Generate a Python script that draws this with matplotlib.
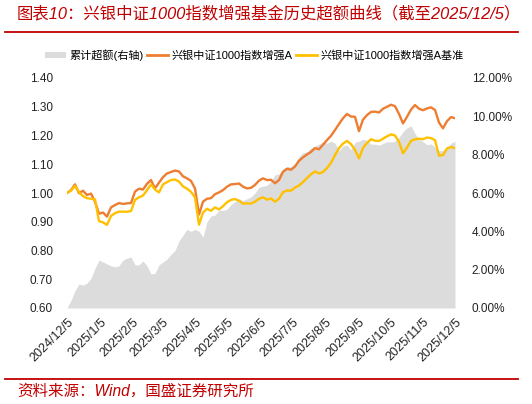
import matplotlib

matplotlib.use("Agg")
import matplotlib.pyplot as plt
import numpy as np
import pandas as pd
from matplotlib.lines import Line2D
from matplotlib.patches import Patch

plt.rcParams["font.family"] = ["Liberation Sans", "Noto Sans CJK SC"]

START = "2024-12-05"
END = "2025-12-05"

# 兴银中证1000指数增强A 净值
fund_nav = [
    1.000, 1.010, 1.030, 0.999, 1.008, 0.993, 0.998, 0.970, 0.928, 0.932,
    0.918, 0.950, 0.958, 0.965, 0.962, 0.964, 0.965, 1.005, 1.015, 1.012,
    1.032, 1.045, 1.016, 1.036, 1.055, 1.068, 1.073, 1.078, 1.075, 1.058,
    1.051, 1.042, 1.016, 0.925, 0.970, 0.980, 0.982, 0.996, 1.002, 1.010,
    1.022, 1.030, 1.031, 1.033, 1.022, 1.016, 1.018, 1.028, 1.043, 1.051,
    1.045, 1.046, 1.034, 1.045, 1.074, 1.084, 1.081, 1.092, 1.112, 1.124,
    1.134, 1.143, 1.156, 1.152, 1.168, 1.184, 1.199, 1.219, 1.240, 1.260,
    1.275, 1.266, 1.265, 1.215, 1.255, 1.271, 1.282, 1.283, 1.280, 1.293,
    1.300, 1.307, 1.302, 1.275, 1.242, 1.265, 1.290, 1.306, 1.293, 1.288,
    1.294, 1.298, 1.289, 1.245, 1.225, 1.250, 1.264, 1.260,
]

# 兴银中证1000指数增强A基准
bench_nav = [
    1.000, 1.008, 1.025, 1.003, 0.989, 0.982, 0.980, 0.978, 0.902, 0.898,
    0.889, 0.920, 0.930, 0.935, 0.935, 0.935, 0.937, 0.976, 0.985, 0.991,
    1.010, 1.030, 1.012, 1.002, 1.030, 1.038, 1.045, 1.047, 1.040, 1.023,
    1.015, 1.004, 0.985, 0.890, 0.932, 0.945, 0.938, 0.950, 0.943, 0.954,
    0.968, 0.976, 0.979, 0.973, 0.963, 0.964, 0.963, 0.970, 0.980, 0.985,
    0.977, 0.981, 0.970, 0.980, 1.003, 1.009, 1.008, 1.019, 1.026, 1.038,
    1.052, 1.065, 1.075, 1.068, 1.073, 1.087, 1.105, 1.132, 1.156, 1.172,
    1.181, 1.170, 1.150, 1.120, 1.157, 1.174, 1.187, 1.182, 1.181, 1.189,
    1.197, 1.204, 1.200, 1.178, 1.138, 1.158, 1.181, 1.187, 1.189, 1.187,
    1.193, 1.191, 1.184, 1.130, 1.132, 1.155, 1.160, 1.156,
]

# 累计超额 (%)
excess_pct = [
    0.00, 0.40, 0.90, 1.25, 1.20, 1.30, 1.55, 2.07, 2.50, 2.40,
    2.30, 2.20, 2.15, 2.20, 2.50, 2.60, 2.66, 2.25, 2.25, 2.45,
    2.20, 1.78, 1.81, 2.25, 2.40, 2.55, 2.80, 3.00, 3.50, 3.80,
    4.10, 4.00, 4.10, 4.00, 3.70, 4.50, 4.80, 4.85, 5.10, 5.10,
    5.15, 5.40, 5.55, 5.70, 5.60, 5.70, 5.80, 6.00, 6.30, 6.35,
    6.40, 6.60, 6.95, 7.00, 7.25, 7.40, 7.35, 7.55, 7.90, 8.10,
    8.15, 8.35, 8.45, 8.55, 8.65, 8.60, 8.70, 8.60, 8.20, 8.45,
    8.50, 8.25, 8.65, 8.70, 8.80, 8.75, 8.55, 8.55, 8.50, 8.58,
    8.68, 8.66, 8.70, 8.90, 9.20, 9.40, 9.50, 9.10, 8.80, 8.68,
    8.52, 8.56, 8.40, 8.20, 8.22, 8.35, 8.60, 8.70,
]

left_ticks = [0.60, 0.70, 0.80, 0.90, 1.00, 1.10, 1.20, 1.30, 1.40]
right_ticks = [0, 2, 4, 6, 8, 10, 12]

RED = "#C00000"
ORANGE = "#ED7D31"
YELLOW = "#FFC000"
GRAY = "#DCDCDC"


def main() -> None:
    dates = pd.date_range(START, END, periods=len(fund_nav))
    tick_dates = [pd.Timestamp(START) + pd.DateOffset(months=k) for k in range(13)]

    fig = plt.figure(figsize=(5.32, 4.04), dpi=100)
    ax = fig.add_axes([67 / 532, 1 - 308 / 404, 388 / 532, 230 / 404])
    ax2 = ax.twinx()

    ax2.fill_between(dates, 0, excess_pct, color=GRAY, linewidth=0)
    ax.plot(dates, fund_nav, color=ORANGE, lw=1.7)
    ax.plot(dates, bench_nav, color=YELLOW, lw=1.7)

    ax.set_zorder(ax2.get_zorder() + 1)
    ax.patch.set_visible(False)

    ax.set_xlim(dates[0], dates[-1])
    ax.set_ylim(0.6, 1.4)
    ax2.set_ylim(0, 12)
    ax.set_yticks(left_ticks)
    ax.set_yticklabels([f"{v:.2f}" for v in left_ticks])
    ax2.set_yticks(right_ticks)
    ax2.set_yticklabels([f"{v:.2f}%" for v in right_ticks])
    ax.set_xticks(tick_dates)
    ax.set_xticklabels(
        [f"{d.year}/{d.month}/{d.day}" for d in tick_dates],
        rotation=45, ha="right", va="top", rotation_mode="anchor",
    )

    for a in (ax, ax2):
        for s in a.spines.values():
            s.set_visible(False)
        a.tick_params(length=0, labelsize=8.5, colors="#222222")
    ax.tick_params(axis="y", pad=10)
    ax2.tick_params(axis="y", pad=12)
    ax.tick_params(axis="x", pad=6, labelsize=9)

    handles = [
        Patch(facecolor=GRAY, edgecolor="none", label="累计超额(右轴)"),
        Line2D([0], [0], color=ORANGE, lw=2, label="兴银中证1000指数增强A"),
        Line2D([0], [0], color=YELLOW, lw=2, label="兴银中证1000指数增强A基准"),
    ]
    fig.legend(
        handles=handles, loc="center", bbox_to_anchor=(0.478, 1 - 55 / 404), ncol=3,
        frameon=False, fontsize=8, handlelength=1.9, handleheight=0.45,
        handletextpad=0.3, columnspacing=0.3,
    )

    fig.text(
        0.032, 1 - 13 / 404, "图表10：兴银中证1000指数增强基金历史超额曲线（截至2025/12/5）",
        color=RED, fontsize=11.8, style="italic", va="center", ha="left",
    )
    fig.add_artist(Line2D([5 / 532, 518 / 532], [1 - 31.5 / 404] * 2, color=RED, lw=1.3))
    fig.add_artist(Line2D([5 / 532, 518 / 532], [1 - 379 / 404] * 2, color=RED, lw=1.3))
    fig.text(
        0.032, 1 - 391 / 404, "资料来源：Wind，国盛证券研究所",
        color=RED, fontsize=11.2, style="italic", va="center", ha="left",
    )

    fig.savefig("out.png", dpi=100)
    plt.close(fig)


if __name__ == "__main__":
    main()
